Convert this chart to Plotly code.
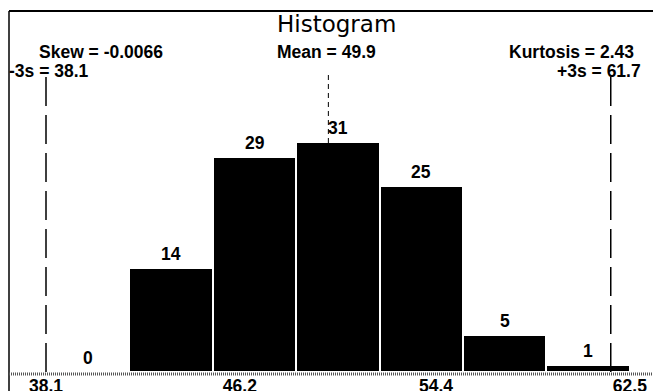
import plotly.graph_objects as go

# ---- data ----
title_text = "Histogram"
bin_low = 38.1
bin_high = 62.5
counts = [0, 14, 29, 31, 25, 5, 1]
tick_vals = [38.1, 46.2, 54.4, 62.5]
tick_text = ["38.1", "46.2", "54.4", "62.5"]
mean_val = 49.9
minus3s = 38.1
plus3s = 61.7
skew_text = "-0.0066"
kurt_text = "2.43"

# ---- geometry (page body has an 8px margin) ----
OFF = 8
W, H = 661 - OFF, 391 - OFF
ml, mr, mt, mb = 9 - OFF, 0, 11 - OFF, 19
pw = W - ml - mr
ph = H - mt - mb
px_per_unit = 23.93
x_start = minus3s - (46 - 9) / px_per_unit
x_range = [x_start, x_start + pw / px_per_unit]
y_range = [0, 48.6]


def pyp(p):
    # window pixel y -> paper fraction
    return (391 - mb - p) / ph


def pxp(p):
    # window pixel x -> paper fraction
    return (p - 9) / pw


n = len(counts)
bw = (bin_high - bin_low) / n
centers = [bin_low + bw * (i + 0.5) for i in range(n)]

BOLD = dict(family="Liberation Sans, Arial, sans-serif", size=17.5, color="black", weight="bold")

fig = go.Figure()
fig.add_trace(go.Bar(
    x=centers, y=counts, width=bw,
    marker=dict(color="black", line=dict(color="white", width=2)),
    hoverinfo="x+y",
))

annotations = []
for c, v in zip(centers, counts):
    annotations.append(dict(x=c, y=v, xref="x", yref="y", text=str(v), showarrow=False,
                            yanchor="middle", yshift=14, font=BOLD))

annotations += [
    dict(xref="paper", yref="paper", x=pxp(336), y=pyp(24), text=title_text, showarrow=False,
         xanchor="center", yanchor="middle",
         font=dict(family="DejaVu Sans, sans-serif", size=23, color="black")),
    dict(xref="paper", yref="paper", x=pxp(37), y=pyp(52), text="Skew = " + skew_text,
         showarrow=False, xanchor="left", yanchor="middle", font=BOLD),
    dict(xref="x", yref="paper", x=mean_val, y=pyp(52), text="Mean = " + str(mean_val),
         showarrow=False, xanchor="center", yanchor="middle", xshift=-2, font=BOLD),
    dict(xref="paper", yref="paper", x=pxp(636), y=pyp(52), text="Kurtosis = " + kurt_text,
         showarrow=False, xanchor="right", yanchor="middle", font=BOLD),
    dict(xref="paper", yref="paper", x=pxp(7), y=pyp(71), text="-3s = " + str(minus3s),
         showarrow=False, xanchor="left", yanchor="middle", font=BOLD),
    dict(xref="paper", yref="paper", x=pxp(643), y=pyp(71), text="+3s = " + str(plus3s),
         showarrow=False, xanchor="right", yanchor="middle", font=BOLD),
]

shapes = [
    dict(type="line", xref="x", yref="paper", x0=minus3s, x1=minus3s, y0=pyp(77), y1=0,
         line=dict(color="black", width=1.5, dash="29px,9px")),
    dict(type="line", xref="x", yref="paper", x0=plus3s, x1=plus3s, y0=pyp(77), y1=0,
         line=dict(color="black", width=1.5, dash="29px,9px")),
    dict(type="line", xref="x", yref="paper", x0=mean_val, x1=mean_val, y0=pyp(75), y1=0,
         line=dict(color="black", width=1, dash="5px,4px")),
    dict(type="line", xref="paper", yref="paper", x0=0, x1=1, y0=1, y1=1,
         line=dict(color="black", width=2)),
    dict(type="line", xref="paper", yref="paper", x0=0, x1=0, y0=1, y1=pyp(400),
         line=dict(color="black", width=1.5)),
    dict(type="line", xref="paper", yref="paper", x0=0, x1=1, y0=pyp(374), y1=pyp(374),
         line=dict(color="#555555", width=3, dash="1px,1px")),
]

fig.update_layout(
    width=W, height=H,
    margin=dict(l=ml, r=mr, t=mt, b=mb, pad=0, autoexpand=False),
    paper_bgcolor="white", plot_bgcolor="white",
    showlegend=False, bargap=0,
    xaxis=dict(range=x_range, tickvals=tick_vals, ticktext=tick_text, showgrid=False,
               zeroline=False, showline=False, ticks="", tickfont=BOLD,
               ticklabelstandoff=1, fixedrange=True, automargin=False),
    yaxis=dict(range=y_range, visible=False, fixedrange=True, automargin=False),
    annotations=annotations,
    shapes=shapes,
)

fig.write_html("out.html")
